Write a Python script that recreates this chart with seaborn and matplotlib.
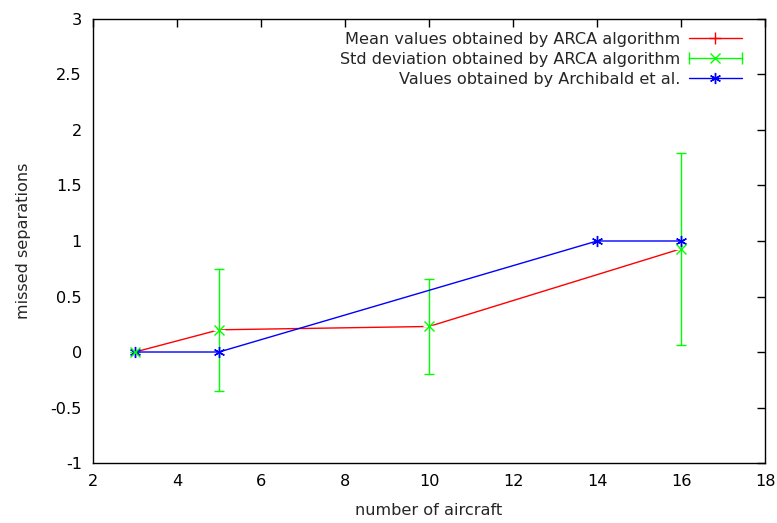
import matplotlib
matplotlib.use("Agg")
import matplotlib.pyplot as plt
from matplotlib.lines import Line2D
from matplotlib.legend_handler import HandlerLine2D, HandlerTuple
import seaborn as sns
import pandas as pd

# data
arca_x = [3, 5, 10, 16]
arca_mean = [0.0, 0.2, 0.23, 0.93]
arca_std = [0.0, 0.55, 0.43, 0.865]
arch_x = [3, 5, 14, 16]
arch_y = [0.0, 0.0, 1.0, 1.0]
labels = ["Mean values obtained by ARCA algorithm",
          "Std deviation obtained by ARCA algorithm",
          "Values obtained by Archibald et al."]

sns.set_style("white")
plt.rcParams['font.family'] = ['DejaVu Sans']

RED, GREEN, BLUE = "#ff0000", "#00ff00", "#0000ff"
FS = 11.6

fig = plt.figure(figsize=(7.77, 5.23), dpi=100)
ax = fig.add_axes([0.1197, 0.1147, 0.8649, 0.849])

df_arca = pd.DataFrame({"x": arca_x, "y": arca_mean})
df_arch = pd.DataFrame({"x": arch_x, "y": arch_y})

sns.lineplot(data=df_arca, x="x", y="y", ax=ax, color=RED, lw=1,
             marker="+", markersize=8, mew=1, legend=False)
ax.errorbar(arca_x, arca_mean, yerr=arca_std, fmt="x", color=GREEN,
            ms=7, mew=1, elinewidth=1, capsize=3.5, capthick=1)
sns.lineplot(data=df_arch, x="x", y="y", ax=ax, color=BLUE, lw=1,
             marker=(6, 2, 0), markersize=8, mew=1, mec=BLUE, legend=False)

ax.set_xlim(2, 18)
ax.set_ylim(-1, 3)
ax.set_xticks(range(2, 19, 2))
ax.set_yticks([-1, -0.5, 0, 0.5, 1, 1.5, 2, 2.5, 3])
ax.set_yticklabels(["-1", "-0.5", "0", "0.5", "1", "1.5", "2", "2.5", "3"])
ax.tick_params(direction="in", top=True, right=True, length=6, width=1,
               labelsize=FS, colors="black", pad=8)
for s in ax.spines.values():
    s.set_color("black")
    s.set_linewidth(1)
ax.set_xlabel("number of aircraft", fontsize=FS, labelpad=10)
ax.set_ylabel("missed separations", fontsize=FS, labelpad=14)

# legend handles (gnuplot style)
h_red = Line2D([], [], color=RED, lw=1, marker="+", ms=8, mew=1)
h_green_line = Line2D([], [], color=GREEN, lw=1, marker="x", ms=7, mew=1)
h_green_caps = Line2D([], [], color=GREEN, lw=0, marker="|", ms=8, mew=1)
h_blue = Line2D([], [], color=BLUE, lw=1, marker=(6, 2, 0), ms=8, mew=1)
green_tuple = (h_green_line, h_green_caps)

hm = {
    h_red: HandlerLine2D(numpoints=1),
    h_blue: HandlerLine2D(numpoints=1),
    h_green_line: HandlerLine2D(numpoints=1),
    h_green_caps: HandlerLine2D(numpoints=2, marker_pad=0),
    green_tuple: HandlerTuple(ndivide=1, pad=0),
}

leg = ax.legend([h_red, green_tuple, h_blue], labels,
                loc="upper right", frameon=False, markerfirst=False,
                fontsize=FS, handlelength=3.3, labelspacing=0.3,
                borderaxespad=0.0, handletextpad=0.5,
                bbox_to_anchor=(0.975, 0.985), handler_map=hm)
for t in leg.get_texts():
    t.set_ha("right")

fig.savefig("out.png", dpi=100)
